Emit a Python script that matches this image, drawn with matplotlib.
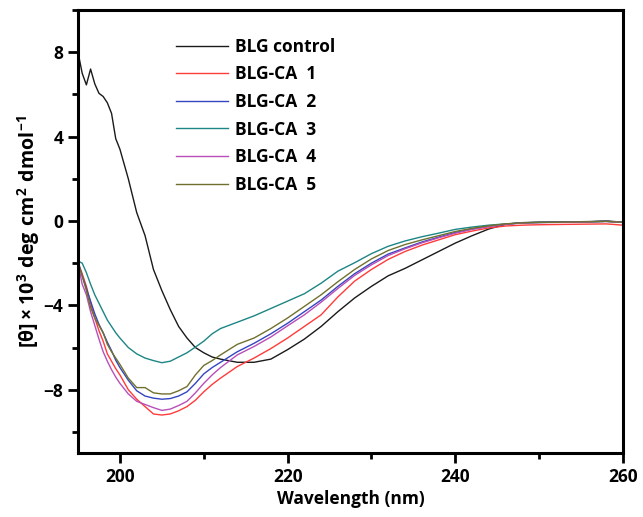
import matplotlib
matplotlib.use("Agg")
import matplotlib.pyplot as plt
from matplotlib.ticker import MultipleLocator

# Wavelength grid (nm)
wavelength = [195, 195.5, 196, 196.5, 197, 197.5, 198, 198.5, 199, 199.5, 200,
              201, 202, 203, 204, 205, 206, 207, 208, 209, 210, 211, 212, 214,
              216, 218, 220, 222, 224, 226, 228, 230, 232, 234, 236, 238, 240,
              242, 244, 246, 248, 250, 252, 254, 256, 258, 260]

# Ellipticity values ([theta] x 10^3)
blg_control = [8.0, 7.0, 6.45, 7.2, 6.5, 6.05, 5.9, 5.6, 5.1, 3.9, 3.4,
               2.0, 0.4, -0.7, -2.3, -3.3, -4.2, -5.0, -5.55, -6.0, -6.25, -6.45, -6.55, -6.7,
               -6.7, -6.55, -6.1, -5.6, -5.0, -4.3, -3.65, -3.1, -2.6, -2.25, -1.85, -1.45, -1.05,
               -0.7, -0.38, -0.16, -0.08, -0.06, -0.05, -0.04, -0.03, 0.0, -0.06]
blg_ca1 = [-1.95, -2.5, -3.1, -3.9, -4.6, -5.2, -5.7, -6.3, -6.65, -7.0, -7.3,
           -8.0, -8.45, -8.8, -9.15, -9.2, -9.15, -9.0, -8.8, -8.5, -8.1, -7.75, -7.45, -6.9,
           -6.5, -6.05, -5.55, -5.0, -4.45, -3.6, -2.85, -2.3, -1.82, -1.45, -1.15, -0.9, -0.65,
           -0.48, -0.33, -0.24, -0.2, -0.18, -0.17, -0.16, -0.15, -0.14, -0.2]
blg_ca2 = [-1.95, -2.6, -3.2, -3.8, -4.4, -4.9, -5.3, -5.75, -6.15, -6.6, -6.95,
           -7.55, -8.05, -8.3, -8.4, -8.45, -8.42, -8.3, -8.1, -7.7, -7.25, -6.95, -6.7, -6.2,
           -5.8, -5.35, -4.85, -4.3, -3.75, -3.1, -2.5, -2.0, -1.57, -1.28, -1.0, -0.77, -0.55,
           -0.38, -0.25, -0.15, -0.09, -0.07, -0.06, -0.05, -0.04, -0.02, -0.06]
blg_ca3 = [-1.9, -2.0, -2.45, -3.0, -3.5, -3.9, -4.3, -4.7, -5.0, -5.3, -5.55,
           -6.0, -6.3, -6.5, -6.62, -6.72, -6.65, -6.45, -6.25, -5.98, -5.7, -5.35, -5.1, -4.8,
           -4.5, -4.15, -3.8, -3.45, -2.95, -2.38, -1.98, -1.55, -1.2, -0.95, -0.75, -0.58, -0.4,
           -0.29, -0.2, -0.14, -0.09, -0.07, -0.06, -0.05, -0.04, -0.02, -0.07]
blg_ca4 = [-2.0, -3.0, -3.5, -4.3, -4.95, -5.6, -6.2, -6.65, -7.05, -7.4, -7.7,
           -8.2, -8.55, -8.7, -8.85, -8.98, -8.92, -8.75, -8.55, -8.15, -7.7, -7.3, -6.95, -6.35,
           -5.95, -5.5, -4.97, -4.45, -3.85, -3.2, -2.58, -2.08, -1.64, -1.32, -1.04, -0.8, -0.58,
           -0.4, -0.27, -0.16, -0.1, -0.08, -0.07, -0.06, -0.05, -0.02, -0.07]
blg_ca5 = [-2.0, -2.6, -3.3, -4.1, -4.6, -4.95, -5.3, -5.85, -6.2, -6.5, -6.8,
           -7.45, -7.9, -7.9, -8.15, -8.2, -8.2, -8.05, -7.85, -7.3, -6.85, -6.62, -6.35, -5.85,
           -5.55, -5.1, -4.6, -4.05, -3.5, -2.88, -2.3, -1.8, -1.4, -1.12, -0.9, -0.7, -0.5,
           -0.35, -0.23, -0.14, -0.09, -0.07, -0.06, -0.05, -0.04, -0.02, -0.07]

labels = ["BLG control", "BLG-CA  1", "BLG-CA  2", "BLG-CA  3", "BLG-CA  4", "BLG-CA  5"]
colors = ["#1a1a1a", "#ff3b3b", "#3346c0", "#1d8585", "#b84fb8", "#70702e"]

plt.rcParams["font.family"] = ["Open Sans", "DejaVu Sans"]
plt.rcParams["font.weight"] = "bold"
plt.rcParams["mathtext.fontset"] = "custom"
plt.rcParams["mathtext.rm"] = "Open Sans:bold"
plt.rcParams["mathtext.bf"] = "Open Sans:bold"
plt.rcParams["mathtext.it"] = "Open Sans:bold"

fig = plt.figure(figsize=(6.43, 5.17), dpi=100)
ax = fig.add_axes([0.1213, 0.1238, 0.8476, 0.8569])

series = [blg_control, blg_ca1, blg_ca2, blg_ca3, blg_ca4, blg_ca5]
for values, label, color in zip(series, labels, colors):
    ax.plot(wavelength, values, color=color, lw=1.0, label=label)

ax.set_xlim(195, 260)
ax.set_ylim(-11, 10)
ax.xaxis.set_major_locator(MultipleLocator(20))
ax.xaxis.set_minor_locator(MultipleLocator(10))
ax.yaxis.set_major_locator(MultipleLocator(4))
ax.yaxis.set_minor_locator(MultipleLocator(2))
ax.set_yticks([-8, -4, 0, 4, 8])

for spine in ax.spines.values():
    spine.set_linewidth(2.2)
ax.tick_params(which="major", direction="out", length=7, width=2, labelsize=12.5)
ax.tick_params(which="minor", direction="out", length=4, width=2)
ax.tick_params(top=False, right=False, which="both")
for lbl in ax.get_xticklabels() + ax.get_yticklabels():
    lbl.set_fontweight("bold")

ax.set_xlabel("Wavelength (nm)", fontsize=12.5, fontweight="bold", labelpad=3)
ax.set_ylabel(r"$[\theta]\times10^{3}\ deg\ cm^{2}\ dmol^{-1}$", fontsize=14, labelpad=1)

ax.legend(loc="upper left", bbox_to_anchor=(0.18, 0.937), frameon=False,
          fontsize=12.5, handlelength=3.0, handletextpad=0.4, labelspacing=0.55,
          borderpad=0, borderaxespad=0)

fig.savefig("out.png", dpi=100)
